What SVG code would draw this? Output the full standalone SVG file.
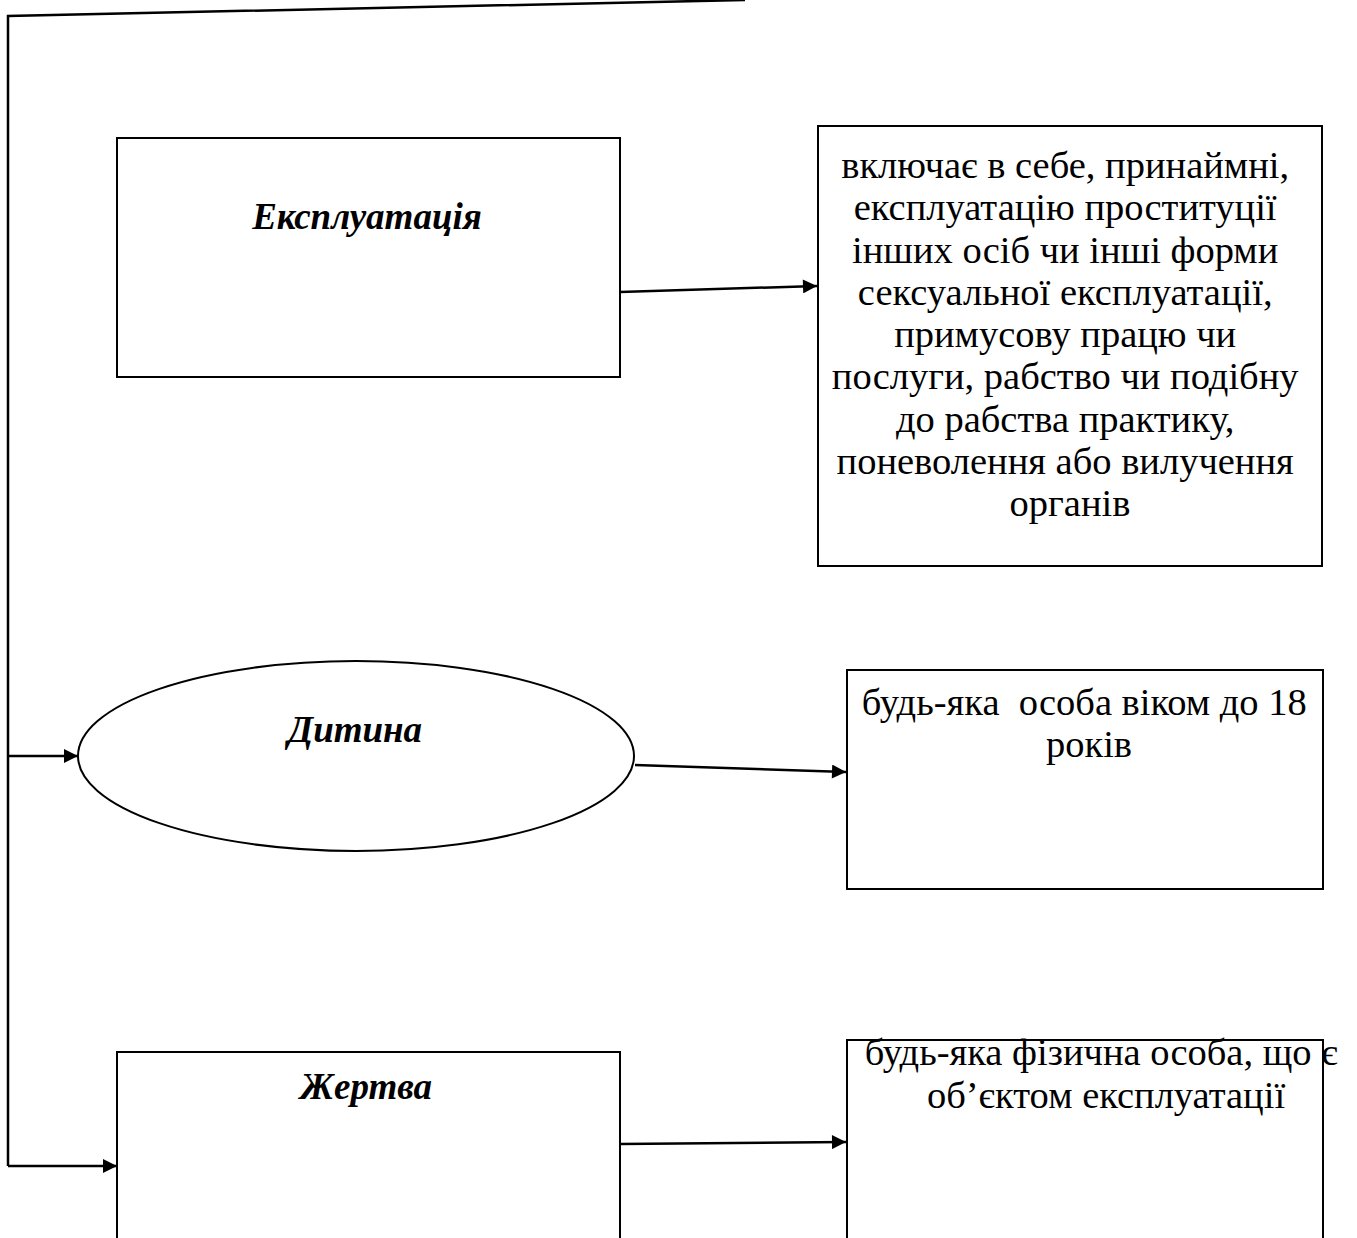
<svg xmlns="http://www.w3.org/2000/svg" width="1357" height="1238" viewBox="0 0 1357 1238">
<style>
.box{fill:#fff;stroke:#000;stroke-width:2}
.ln{fill:none;stroke:#000;stroke-width:2.5}
.t{font-family:"Liberation Serif","Times New Roman",serif;font-size:38.5px;fill:#000;text-anchor:middle}
.h{font-weight:bold;font-style:italic;font-size:37px}
</style>
<defs>
<marker id="ah" viewBox="0 0 10 10" refX="10" refY="5" markerWidth="17" markerHeight="14" markerUnits="userSpaceOnUse" orient="auto">
<path d="M0,0 L10,5 L0,10 z" fill="#000"/>
</marker>
</defs>
<rect width="1357" height="1238" fill="#fff"/>
<g id="connectors">
<path class="ln" d="M745,0 L8,16 L8,1166"/>
<line class="ln" x1="8" y1="756" x2="78" y2="756" marker-end="url(#ah)"/>
<line class="ln" x1="8" y1="1166" x2="117" y2="1166" marker-end="url(#ah)"/>
<line class="ln" x1="620" y1="292" x2="817" y2="286" marker-end="url(#ah)"/>
<line class="ln" x1="635" y1="765" x2="846" y2="772" marker-end="url(#ah)"/>
<line class="ln" x1="620" y1="1144" x2="846" y2="1142" marker-end="url(#ah)"/>
</g>
<g id="exploitation">
<rect class="box" x="117" y="138" width="503" height="239"/>
<text class="t h" x="367" y="229">Експлуатація</text>
</g>
<g id="exploitation-def">
<rect class="box" x="818" y="126" width="504" height="440"/>
<text class="t">
<tspan x="1070" y="178">включає в себе, принаймні,</tspan>
<tspan x="1070" y="220">експлуатацію проституції</tspan>
<tspan x="1070" y="263">інших осіб чи інші форми</tspan>
<tspan x="1070" y="305">сексуальної експлуатації,</tspan>
<tspan x="1070" y="347">примусову працю чи</tspan>
<tspan x="1070" y="389">послуги, рабство чи подібну</tspan>
<tspan x="1070" y="432">до рабства практику,</tspan>
<tspan x="1070" y="474">поневолення або вилучення</tspan>
<tspan x="1070" y="516">органів</tspan>
</text>
</g>
<g id="child">
<ellipse class="box" cx="356" cy="756" rx="278" ry="95"/>
<text class="t h" x="355" y="742">Дитина</text>
</g>
<g id="child-def">
<rect class="box" x="847" y="670" width="476" height="219"/>
<text class="t">
<tspan x="1089" y="715" xml:space="preserve">будь-яка  особа віком до 18</tspan>
<tspan x="1089" y="757">років</tspan>
</text>
</g>
<g id="victim">
<rect class="box" x="117" y="1052" width="503" height="200"/>
<text class="t h" x="366" y="1099">Жертва</text>
</g>
<g id="victim-def">
<rect class="box" x="847" y="1040" width="476" height="212"/>
<text class="t">
<tspan x="1106" y="1065">будь-яка фізична особа, що є</tspan>
<tspan x="1106" y="1108">об’єктом експлуатації</tspan>
</text>
</g>
</svg>
